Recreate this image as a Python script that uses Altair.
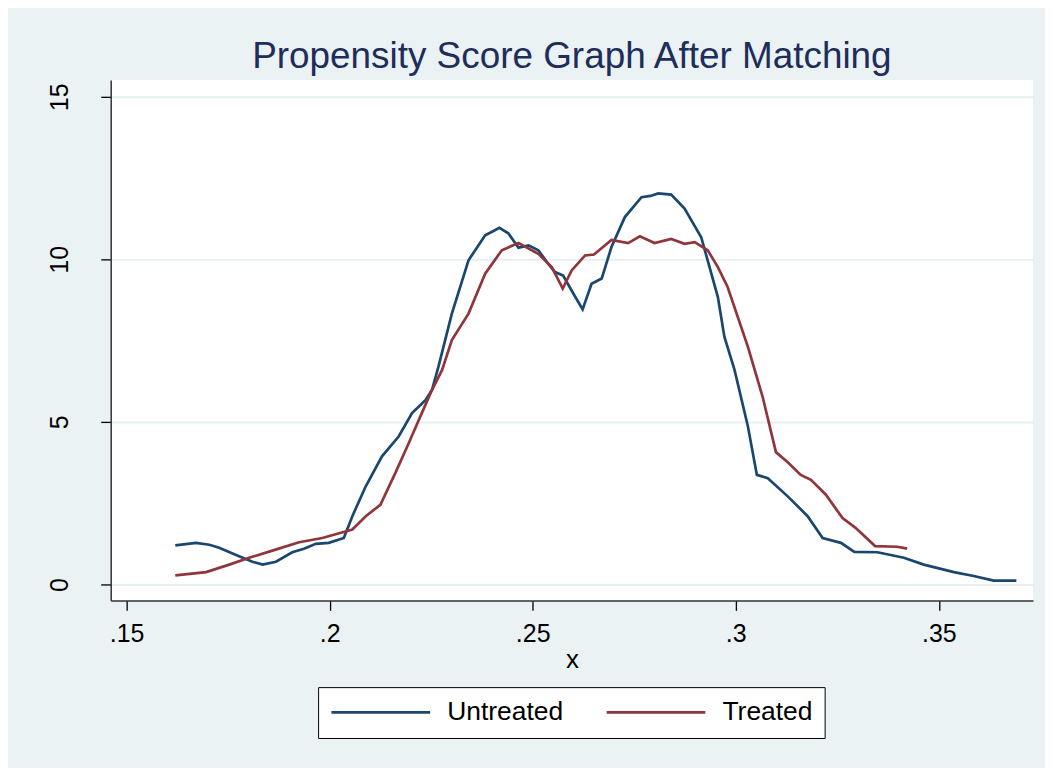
import altair as alt
import pandas as pd

untreated_x = [0.1620, 0.1671, 0.1704, 0.1728, 0.1777, 0.1810, 0.1835, 0.1868, 0.1908, 0.1937,
               0.1966, 0.1998, 0.2035, 0.2056, 0.2089, 0.2129, 0.2170, 0.2203, 0.2236, 0.2252,
               0.2268, 0.2301, 0.2342, 0.2383, 0.2400, 0.2418, 0.2440, 0.2465, 0.2490, 0.2514,
               0.2539, 0.2555, 0.2575, 0.2600, 0.2623, 0.2645, 0.2670, 0.2694, 0.2727, 0.2768,
               0.2790, 0.2809, 0.2841, 0.2874, 0.2915, 0.2956, 0.2972, 0.2997, 0.3030, 0.3052,
               0.3079, 0.3128, 0.3177, 0.3214, 0.3259, 0.3292, 0.3349, 0.3414, 0.3463, 0.3537,
               0.3586, 0.3635, 0.3691]
untreated_y = [1.20, 1.28, 1.22, 1.13, 0.87, 0.70, 0.61, 0.70, 0.99, 1.10,
               1.25, 1.28, 1.43, 2.10, 3.02, 3.94, 4.55, 5.27, 5.67, 5.98,
               6.70, 8.33, 9.97, 10.74, 10.85, 10.97, 10.80, 10.36, 10.43, 10.28,
               9.85, 9.61, 9.50, 8.95, 8.46, 9.25, 9.41, 10.38, 11.30, 11.91,
               11.95, 12.03, 11.99, 11.56, 10.68, 8.84, 7.62, 6.60, 4.86, 3.37,
               3.27, 2.71, 2.10, 1.43, 1.28, 1.00, 0.99, 0.82, 0.61, 0.38,
               0.26, 0.12, 0.12]

treated_x = [0.1620, 0.1696, 0.1753, 0.1802, 0.1859, 0.1925, 0.1982, 0.2056, 0.2089, 0.2125,
             0.2162, 0.2195, 0.2227, 0.2252, 0.2277, 0.2301, 0.2342, 0.2383, 0.2424, 0.2465,
             0.2514, 0.2547, 0.2574, 0.2596, 0.2629, 0.2651, 0.2694, 0.2735, 0.2764, 0.2800,
             0.2841, 0.2874, 0.2899, 0.2931, 0.2956, 0.2980, 0.3030, 0.3066, 0.3099, 0.3128,
             0.3160, 0.3185, 0.3222, 0.3263, 0.3295, 0.3343, 0.3398, 0.3422]
treated_y = [0.28, 0.38, 0.61, 0.82, 1.04, 1.30, 1.43, 1.69, 2.10, 2.45,
             3.43, 4.35, 5.27, 5.98, 6.60, 7.52, 8.33, 9.56, 10.28, 10.50,
             10.17, 9.76, 9.10, 9.66, 10.12, 10.15, 10.60, 10.50, 10.71, 10.50,
             10.63, 10.48, 10.53, 10.28, 9.76, 9.15, 7.31, 5.78, 4.07, 3.76,
             3.37, 3.22, 2.76, 2.04, 1.74, 1.18, 1.16, 1.10]

groups = ["Untreated", "Treated"]
colors = ["#1A476F", "#90353B"]
x_ticks = [0.15, 0.2, 0.25, 0.3, 0.35]
y_ticks = [0, 5, 10, 15]

df = pd.concat([
    pd.DataFrame({"x": untreated_x, "y": untreated_y, "group": "Untreated", "order": range(len(untreated_x))}),
    pd.DataFrame({"x": treated_x, "y": treated_y, "group": "Treated", "order": range(len(treated_x))}),
])

FONT = "Liberation Sans"

chart = alt.Chart(df).mark_line(strokeWidth=2.7, clip=True).encode(
    x=alt.X("x:Q", title="x",
            scale=alt.Scale(domain=[0.1461, 0.3732], nice=False, zero=False),
            axis=alt.Axis(values=x_ticks, labelExpr="substring(format(datum.value, '.2~f'), 1)",
                          grid=False, tickSize=10, labelPadding=11, titlePadding=0)),
    y=alt.Y("y:Q", title=None,
            scale=alt.Scale(domain=[-0.49, 15.52], nice=False, zero=False),
            axis=alt.Axis(values=y_ticks, grid=True, tickSize=10, labelAngle=270,
                          labelPadding=28)),
    color=alt.Color("group:N", scale=alt.Scale(domain=groups, range=colors),
                    legend=alt.Legend(title=None, orient="none", legendX=208, legendY=609,
                                      direction="horizontal", symbolType="M-2.4,0H17.6",
                                      symbolSize=98, symbolStrokeWidth=2.7,
                                      labelFontSize=26.5, labelFont=FONT, labelColor="black",
                                      labelOffset=91, columnPadding=37, padding=12,
                                      strokeColor="black", fillColor="white")),
    order="order:Q",
).properties(
    width=925, height=522,
    title=alt.TitleParams("Propensity Score Graph After Matching", fontSize=37, font=FONT,
                          fontWeight="normal", color="#1E2D5A", anchor="middle", offset=4),
    background="#EAF2F3",
    padding={"left": 103, "top": 71, "right": 12, "bottom": 167},
    autosize=alt.AutoSizeParams(type="none"),
).configure_view(
    fill="white", strokeWidth=0,
).configure_axis(
    labelFont=FONT, titleFont=FONT, labelFontSize=25, titleFontSize=26,
    titleFontWeight="normal", labelColor="black", titleColor="black",
    domainColor="#333333", domainWidth=1.5, tickColor="black", tickWidth=1.3,
    gridColor="#E6EFF1", gridWidth=2,
)

chart.save("out.html", embed_options={"renderer": "svg", "actions": False})
